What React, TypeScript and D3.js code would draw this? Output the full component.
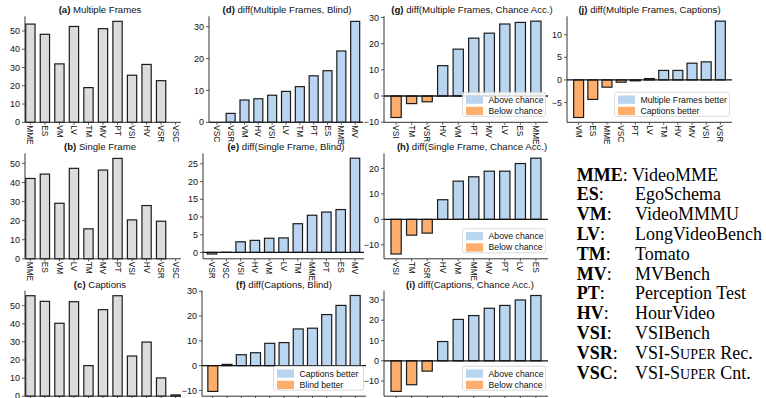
import * as d3 from 'd3'

const W = 766
const H = 398

// panels (a)-(c): accuracy per benchmark
const benchCats = ['MME', 'ES', 'VM', 'LV', 'TM', 'MV', 'PT', 'VSI', 'HV', 'VSR', 'VSC']
const multiFrames = [53.8, 48.2, 32.0, 52.5, 19.0, 51.3, 55.3, 25.8, 31.7, 22.8, 0]
const singleFrame = [42.1, 44.4, 29.1, 47.4, 15.7, 46.5, 52.6, 20.4, 27.9, 19.7, 0]
const captions = [55.5, 52.4, 40.3, 52.2, 16.9, 47.8, 55.5, 22.2, 29.9, 10.1, 0.7]

// diff panels, sorted as in the figure
const dCats = ['VSC', 'VSR', 'VM', 'HV', 'VSI', 'LV', 'TM', 'PT', 'ES', 'MME', 'MV']
const dVals = [0, 2.8, 7.0, 7.4, 8.5, 9.7, 11.2, 14.6, 16.2, 22.4, 31.7]
const eCats = ['VSR', 'VSC', 'VSI', 'HV', 'VM', 'LV', 'TM', 'MME', 'PT', 'ES', 'MV']
const eVals = [-0.45, 0.05, 3.0, 3.4, 4.0, 4.1, 8.1, 10.5, 11.4, 12.1, 26.6]
const fCats = ['VSR', 'VSC', 'VSI', 'HV', 'TM', 'LV', 'PT', 'VM', 'ES', 'MME', 'MV']
const fVals = [-10.4, 0.5, 4.4, 5.2, 9.0, 9.3, 14.8, 15.1, 20.6, 24.3, 28.3]
const gCats = ['VSI', 'TM', 'VSR', 'HV', 'VM', 'PT', 'MV', 'LV', 'ES', 'MME']
const gVals = [-8.2, -2.9, -2.2, 11.6, 17.9, 22.1, 24.0, 27.5, 28.1, 28.6]
const hCats = ['VSI', 'TM', 'VSR', 'HV', 'VM', 'MME', 'MV', 'PT', 'LV', 'ES']
const hVals = [-13.6, -6.2, -5.4, 7.7, 15.0, 16.7, 18.9, 18.9, 21.9, 24.0]
const iCats = ['VSR', 'VSI', 'TM', 'HV', 'MV', 'PT', 'VM', 'LV', 'MME', 'ES']
const iVals = [-15.1, -11.8, -5.1, 9.5, 20.4, 22.3, 25.9, 27.3, 30.0, 32.2]
const jCats = ['VM', 'ES', 'MME', 'VSC', 'PT', 'LV', 'TM', 'HV', 'MV', 'VSI', 'VSR']
const jVals = [-8.3, -4.3, -1.6, -0.5, -0.2, 0.3, 2.1, 2.1, 3.7, 4.0, 13.0]

// y tick values
const pctTicks = [0, 10, 20, 30, 40, 50]
const dTicks = [0, 10, 20, 30]
const eTicks = [0, 5, 10, 15, 20, 25]
const fTicks = [-10, 0, 10, 20, 30]
const gTicks = [-10, 0, 10, 20, 30]
const hTicks = [-10, 0, 10, 20]
const iTicks = [-10, 0, 10, 20, 30]
const jTicks = [-5, 0, 5, 10]

const chanceLegend = ['Above chance', 'Below chance']
const captionLegend = ['Captions better', 'Blind better']
const mfcLegend = ['Multiple Frames better', 'Captions better']

// abbreviation key on the right
const keyAbbr = ['MME', 'ES', 'VM', 'LV', 'TM', 'MV', 'PT', 'HV', 'VSI', 'VSR', 'VSC']
const keyName = ['VideoMME', 'EgoSchema', 'VideoMMMU', 'LongVideoBench', 'Tomato', 'MVBench', 'Perception Test', 'HourVideo', 'VSIBench', 'VSI-SUPER Rec.', 'VSI-SUPER Cnt.']

const GRAY = '#dcdcdc'
const BLUE = '#bad5ef'
const ORANGE = '#fdad6c'
const EDGE = '#1c1c1c'
const SANS = '"Liberation Sans", Arial, Helvetica, sans-serif'
const SERIF = '"Liberation Serif", "Times New Roman", serif'

const rows = [
  { top: 16.3, bottom: 122.3 },
  { top: 153.4, bottom: 258.8 },
  { top: 290.7, bottom: 396.2 },
]

type Panel = {
  tag: string
  title: string
  cats: string[]
  vals: number[]
  ticks: number[]
  row: number
  x0: number
  x1: number
  pi: number
  po: number
  titleX: number
  kind: 'plain' | 'diff'
  legend?: string[]
  legendW?: number
}

const panels: Panel[] = [
  { tag: '(a)', title: 'Multiple Frames', cats: benchCats, vals: multiFrames, ticks: pctTicks, row: 0, x0: 25, x1: 181, pi: 0.36, po: 0.05, titleX: 100, kind: 'plain' },
  { tag: '(b)', title: 'Single Frame', cats: benchCats, vals: singleFrame, ticks: pctTicks, row: 1, x0: 25, x1: 181, pi: 0.36, po: 0.05, titleX: 100, kind: 'plain' },
  { tag: '(c)', title: 'Captions', cats: benchCats, vals: captions, ticks: pctTicks, row: 2, x0: 25, x1: 181, pi: 0.36, po: 0.05, titleX: 100, kind: 'plain' },
  { tag: '(d)', title: 'diff(Multiple Frames, Blind)', cats: dCats, vals: dVals, ticks: dTicks, row: 0, x0: 209, x1: 363, pi: 0.35, po: 0.24, titleX: 287, kind: 'diff' },
  { tag: '(e)', title: 'diff(Single Frame, Blind)', cats: eCats, vals: eVals, ticks: eTicks, row: 1, x0: 203, x1: 364, pi: 0.34, po: 0.3, titleX: 286, kind: 'diff' },
  { tag: '(f)', title: 'diff(Captions, Blind)', cats: fCats, vals: fVals, ticks: fTicks, row: 2, x0: 202, x1: 366, pi: 0.3, po: 0.41, titleX: 284, kind: 'diff', legend: captionLegend, legendW: 90 },
  { tag: '(g)', title: 'diff(Multiple Frames, Chance Acc.)', cats: gCats, vals: gVals, ticks: gTicks, row: 0, x0: 384, x1: 548, pi: 0.34, po: 0.45, titleX: 472, kind: 'diff', legend: chanceLegend, legendW: 83 },
  { tag: '(h)', title: 'diff(Single Frame, Chance Acc.)', cats: hCats, vals: hVals, ticks: hTicks, row: 1, x0: 384, x1: 548, pi: 0.34, po: 0.45, titleX: 472, kind: 'diff', legend: chanceLegend, legendW: 83 },
  { tag: '(i)', title: 'diff(Captions, Chance Acc.)', cats: iCats, vals: iVals, ticks: iTicks, row: 2, x0: 384, x1: 548, pi: 0.34, po: 0.45, titleX: 470, kind: 'diff', legend: chanceLegend, legendW: 83 },
  { tag: '(j)', title: 'diff(Multiple Frames, Captions)', cats: jCats, vals: jVals, ticks: jTicks, row: 0, x0: 567, x1: 732, pi: 0.3, po: 0.47, titleX: 649.5, kind: 'diff', legend: mfcLegend, legendW: 115 },
]

function BarPanel({ p }: { p: Panel }) {
  const { top, bottom } = rows[p.row]
  const x = d3.scaleBand().domain(p.cats).range([p.x0, p.x1]).paddingInner(p.pi).paddingOuter(p.po)
  const lo = d3.min(p.vals) as number
  const hi = d3.max(p.vals) as number
  let domain: [number, number]
  if (lo >= 0) domain = [0, hi * 1.05]
  else {
    const r = hi - lo
    domain = [lo - 0.05 * r, hi + 0.05 * r]
  }
  const y = d3.scaleLinear().domain(domain).range([bottom, top])
  const fmt = d3.format('d')
  const y0 = y(0)

  let legendEl = null
  if (p.legend) {
    const bw = p.legendW || 80
    const bh = 24
    const bx = p.x1 - 2.5 - bw
    const by = bottom - 6 - bh
    legendEl = (
      <g>
        <rect x={bx} y={by} width={bw} height={bh} rx={2} fill="#fff" fillOpacity={0.85} stroke="#cfcfcf" strokeWidth={0.8} />
        {p.legend.map((lab, k) => (
          <g key={lab}>
            <rect x={bx + 3.5} y={by + 3.2 + k * 11.3} width={17} height={8.3} fill={k === 0 ? BLUE : ORANGE} />
            <text x={bx + 26} y={by + 7.3 + k * 11.3} dy="0.35em" fontSize={8.7} fill="#111">{lab}</text>
          </g>
        ))}
      </g>
    )
  }

  return (
    <g fontFamily={SANS}>
      <text x={p.titleX} y={top - 3} textAnchor="middle" fontSize={9.6} fill="#111">
        <tspan fontWeight="bold">{p.tag}</tspan> {p.title}
      </text>
      {p.cats.map((c, k) => {
        const v = p.vals[k]
        const yv = y(v)
        const fill = p.kind === 'plain' ? GRAY : v >= 0 ? BLUE : ORANGE
        return (
          <rect key={c} x={x(c)} y={Math.min(yv, y0)} width={x.bandwidth()} height={Math.abs(yv - y0)}
            fill={fill} stroke={EDGE} strokeWidth={1.2} />
        )
      })}
      {p.kind === 'diff' && (
        <line x1={p.x0} x2={p.x1} y1={y0} y2={y0} stroke="#111" strokeWidth={1.3} />
      )}
      {/* spines */}
      <line x1={p.x0} x2={p.x0} y1={top} y2={bottom} stroke="#333" strokeWidth={1} />
      <line x1={p.x0} x2={p.x1} y1={bottom} y2={bottom} stroke="#333" strokeWidth={1} />
      {p.ticks.map(t => (
        <g key={t}>
          <line x1={p.x0 - 3} x2={p.x0} y1={y(t)} y2={y(t)} stroke="#333" strokeWidth={0.8} />
          <text x={p.x0 - 5} y={y(t)} dy="0.35em" textAnchor="end" fontSize={9} fill="#111">{fmt(t)}</text>
        </g>
      ))}
      {p.cats.map(c => {
        const cx = (x(c) as number) + x.bandwidth() / 2
        return (
          <g key={'t' + c}>
            <line x1={cx} x2={cx} y1={bottom} y2={bottom + 2.5} stroke="#333" strokeWidth={0.8} />
            <text transform={`translate(${cx},${bottom + 3}) rotate(90)`} dy="0.35em" fontSize={8.3} fill="#111">{c}</text>
          </g>
        )
      })}
      {legendEl}
    </g>
  )
}

function NameKey() {
  const x0 = 576.7
  const x1 = 635
  const base = 180.5
  const step = 19.83
  return (
    <g fontFamily={SERIF} fontSize={18} fill="#000">
      {keyAbbr.map((a, k) => {
        const name = keyName[k]
        const yy = base + k * step
        const sc = name.startsWith('VSI-SUPER')
        return (
          <g key={a}>
            <text x={x0} y={yy}><tspan fontWeight="bold">{a}</tspan>:</text>
            <text x={k === 0 ? 632 : x1} y={yy}>
              {sc ? (
                <>
                  {'VSI-S'}<tspan fontSize={14}>UPER</tspan>{name.slice(9)}
                </>
              ) : name}
            </text>
          </g>
        )
      })}
    </g>
  )
}

export default function App() {
  return (
    <div style={{ width: W, height: H, overflow: 'hidden', background: '#fff' }}>
      <style>{`body{margin:0;background:#fff}`}</style>
      <svg width={W} height={H} style={{ display: 'block' }}>
        <rect width={W} height={H} fill="#fff" />
        {panels.map(p => <BarPanel key={p.tag} p={p} />)}
        <NameKey />
      </svg>
    </div>
  )
}
